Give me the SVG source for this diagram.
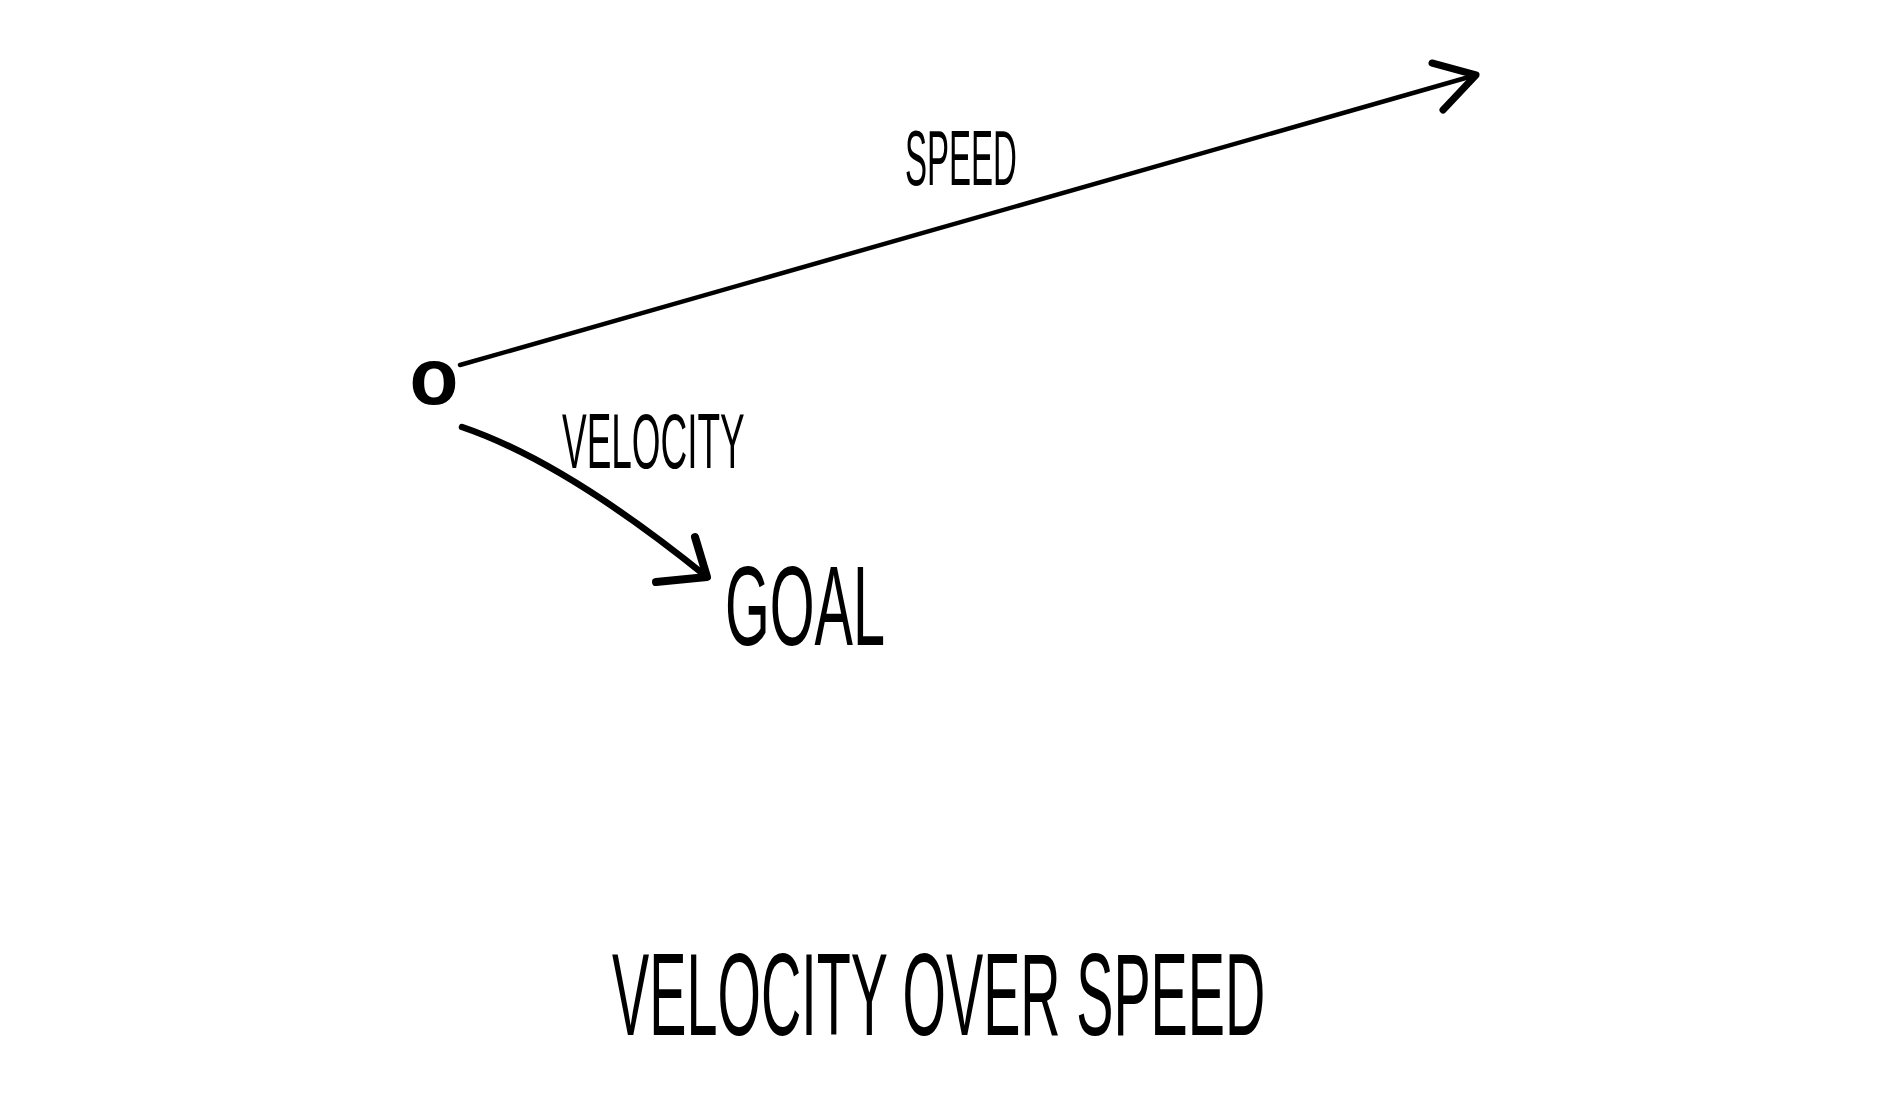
<svg xmlns="http://www.w3.org/2000/svg" width="1899" height="1095" viewBox="0 0 1899 1095">
<style>
.t{font-family:"Liberation Sans",Arial,sans-serif;fill:#000;}
.ln{fill:none;stroke:#000;stroke-linecap:round;stroke-linejoin:round;}
</style>
<rect width="1899" height="1095" fill="#fff"/>
<g id="connectors">
<g id="speed-arrow">
<path class="ln" d="M460,365 L1476,75" stroke-width="4.5"/>
<path class="ln" d="M1432,63 L1476,75 L1443,110" stroke-width="7"/>
</g>
<g id="velocity-arrow">
<path class="ln" d="M462,427 Q565,462 707,577" stroke-width="6.5"/>
<path class="ln" d="M695,537 L707,577 L656,582" stroke-width="8"/>
</g>
</g>
<g id="origin">
<text class="t" x="434" y="404" font-size="80" font-weight="bold" text-anchor="middle">o</text>
</g>
<g id="speed-label">
<text class="t" transform="translate(905,185) scale(0.429,1)" font-size="77">SPEED</text>
</g>
<g id="velocity-label">
<text class="t" transform="translate(562,468) scale(0.48,1)" font-size="77">VELOCITY</text>
</g>
<g id="goal">
<text class="t" transform="translate(725,645) scale(0.505,1)" font-size="114">GOAL</text>
</g>
<g id="title">
<text class="t" transform="translate(612,1035) scale(0.477,1)" font-size="117">VELOCITY OVER SPEED</text>
</g>
</svg>
